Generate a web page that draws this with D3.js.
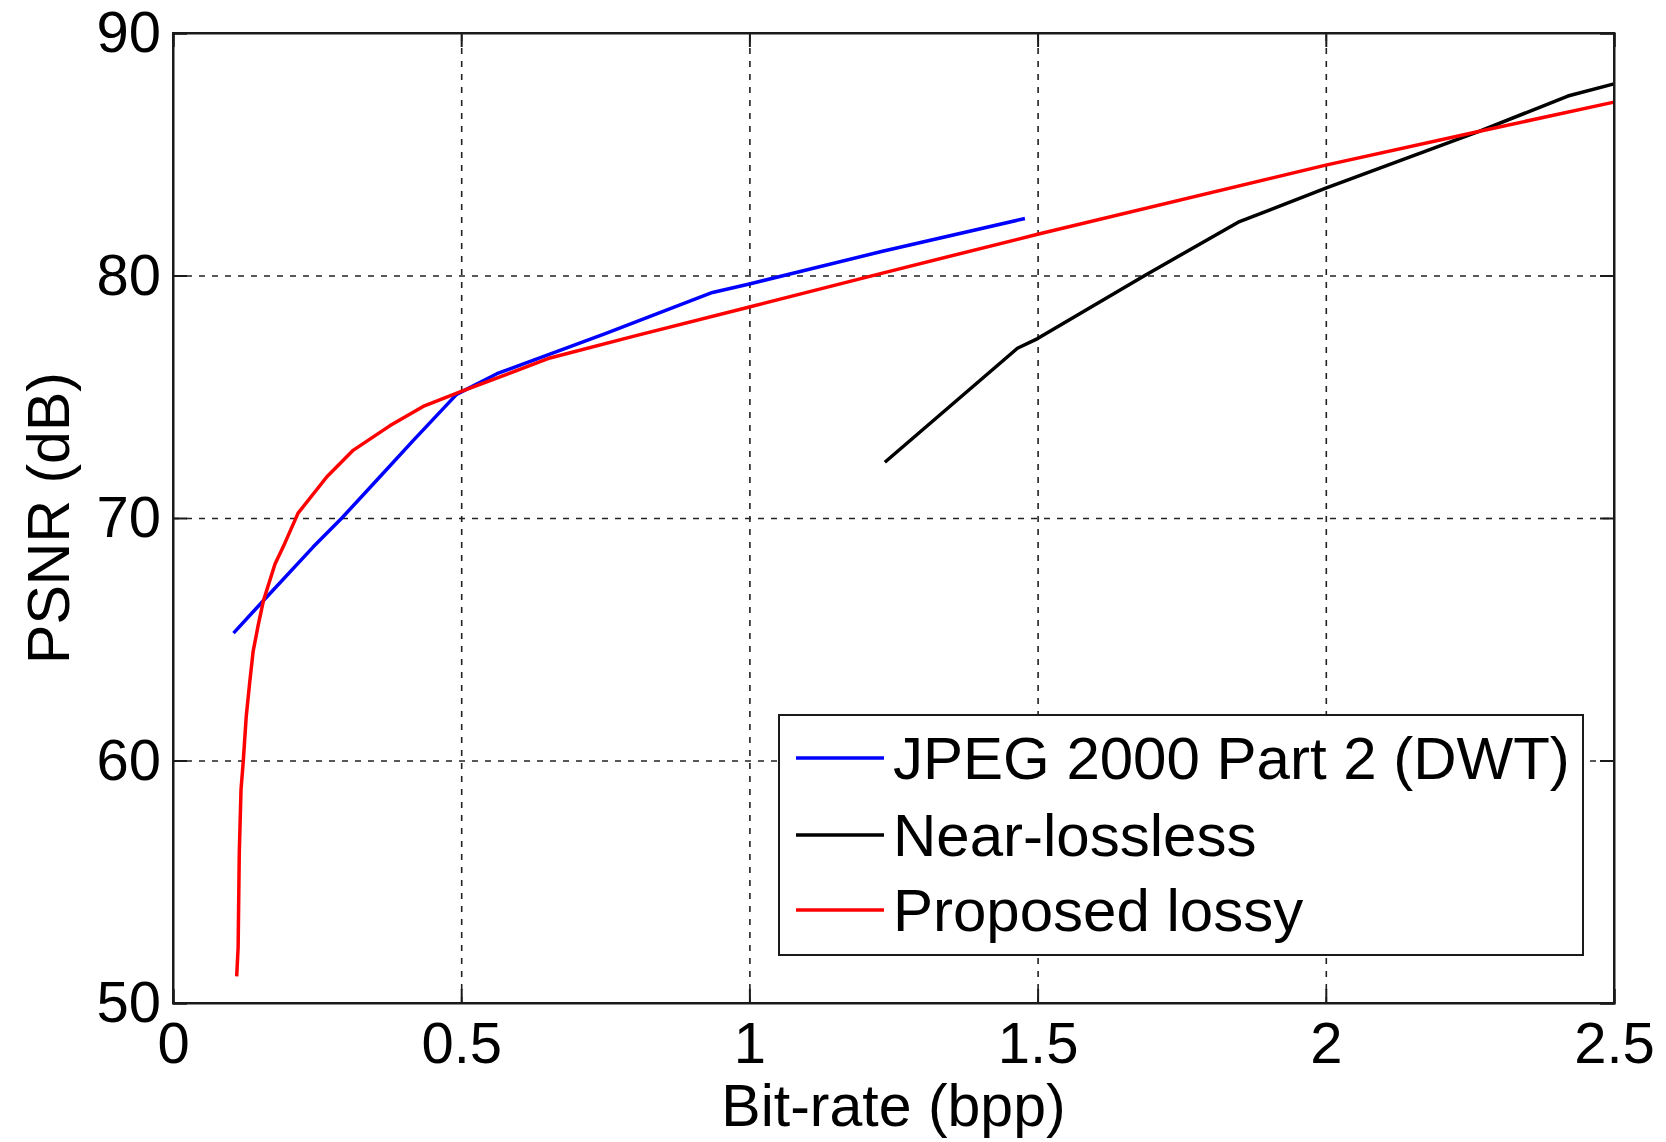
<!DOCTYPE html>
<html>
<head>
<meta charset="utf-8">
<script src="https://cdn.jsdelivr.net/npm/d3@7"></script>
<style>
  body { margin: 0; background: #fff; }
  text { font-family: "Liberation Sans", Arial, sans-serif; fill: #000; }
</style>
</head>
<body>
<div id="chart"></div>
<script>
// tick values
const xTicks = [0, 0.5, 1, 1.5, 2, 2.5];
const yTicks = [50, 60, 70, 80, 90];

// legend names
const seriesNames = ["JPEG 2000 Part 2 (DWT)", "Near-lossless", "Proposed lossy"];
const seriesColors = ["#0000ff", "#000000", "#ff0000"];

// JPEG 2000 Part 2 (DWT)
const jpegRate = [0.105, 0.157, 0.243, 0.293, 0.359, 0.417, 0.492, 0.562, 0.75, 0.936, 1.0, 1.231, 1.478];
const jpegPsnr = [65.25, 66.6, 68.8, 70.0, 71.7, 73.2, 75.1, 75.95, 77.6, 79.3, 79.65, 81.0, 82.35];

// Near-lossless
const nearRate = [1.235, 1.465, 1.5, 1.686, 1.848, 2.0, 2.267, 2.42, 2.5];
const nearPsnr = [72.3, 77.0, 77.4, 80.0, 82.2, 83.6, 85.95, 87.4, 87.9];

// Proposed lossy
const propRate = [0.1105, 0.113, 0.115, 0.118, 0.122, 0.127, 0.133, 0.139, 0.148, 0.157, 0.177, 0.191, 0.217, 0.267, 0.313, 0.376, 0.434, 0.498, 0.654, 0.8, 1.0, 1.231, 1.5, 2.0, 2.267, 2.5];
const propPsnr = [51.1, 52.3, 56.2, 58.8, 60.0, 61.8, 63.2, 64.5, 65.6, 66.6, 68.1, 68.8, 70.2, 71.7, 72.8, 73.8, 74.6, 75.2, 76.6, 77.5, 78.7, 80.1, 81.7, 84.55, 85.95, 87.15];

function drawChart() {
  const width = 1666;
  const height = 1142;
  const margin = { top: 33, right: 52, bottom: 139, left: 173 };
  const plotW = width - margin.left - margin.right;
  const plotH = height - margin.top - margin.bottom;

  const svg = d3.select("#chart")
    .append("svg")
    .attr("width", width)
    .attr("height", height);

  const x = d3.scaleLinear().domain([0, 2.5]).range([margin.left, margin.left + plotW]);
  const y = d3.scaleLinear().domain([50, 90]).range([margin.top + plotH, margin.top]);

  // grid lines (dotted)
  svg.append("g")
    .attr("transform", `translate(0,${margin.top + plotH})`)
    .call(d3.axisBottom(x).tickValues(xTicks.slice(1, -1)).tickSize(-plotH).tickFormat(""))
    .call(g => g.select(".domain").remove())
    .selectAll("line")
    .attr("stroke", "#222")
    .attr("stroke-width", 1.6)
    .attr("stroke-dasharray", "6,7");

  svg.append("g")
    .attr("transform", `translate(${margin.left},0)`)
    .call(d3.axisLeft(y).tickValues(yTicks.slice(1, -1)).tickSize(-plotW).tickFormat(""))
    .call(g => g.select(".domain").remove())
    .selectAll("line")
    .attr("stroke", "#222")
    .attr("stroke-width", 1.6)
    .attr("stroke-dasharray", "6,7");

  // series lines
  const line = d3.line()
    .x(d => x(d[0]))
    .y(d => y(d[1]));

  const series = [
    d3.zip(jpegRate, jpegPsnr),
    d3.zip(nearRate, nearPsnr),
    d3.zip(propRate, propPsnr)
  ];

  series.forEach((pts, i) => {
    svg.append("path")
      .datum(pts)
      .attr("fill", "none")
      .attr("stroke", seriesColors[i])
      .attr("stroke-width", 3.5)
      .attr("stroke-linejoin", "round")
      .attr("d", line);
  });

  // axes with inward ticks
  const tickLen = 14;
  const xAxis = svg.append("g")
    .attr("transform", `translate(0,${margin.top + plotH})`)
    .call(d3.axisBottom(x).tickValues(xTicks).tickSize(-tickLen).tickPadding(19).tickFormat(d => String(d)));
  xAxis.selectAll("text").style("font-size", "58px").attr("dy", "0.71em");

  const yAxis = svg.append("g")
    .attr("transform", `translate(${margin.left},0)`)
    .call(d3.axisLeft(y).tickValues(yTicks).tickSize(-tickLen).tickPadding(12).tickFormat(d => String(d)));
  yAxis.selectAll("text").style("font-size", "58px");

  svg.append("g")
    .attr("transform", `translate(0,${margin.top})`)
    .call(d3.axisTop(x).tickValues(xTicks).tickSize(-tickLen).tickFormat(""));
  svg.append("g")
    .attr("transform", `translate(${margin.left + plotW},0)`)
    .call(d3.axisRight(y).tickValues(yTicks).tickSize(-tickLen).tickFormat(""));

  svg.selectAll(".domain, .tick line:not([stroke-dasharray])")
    .attr("stroke", "#1a1a1a")
    .attr("stroke-width", 2);

  // frame
  svg.append("rect")
    .attr("x", margin.left)
    .attr("y", margin.top)
    .attr("width", plotW)
    .attr("height", plotH)
    .attr("fill", "none")
    .attr("stroke", "#1a1a1a")
    .attr("stroke-width", 2);

  // axis labels
  svg.append("text")
    .attr("x", margin.left + plotW / 2)
    .attr("y", 1126)
    .attr("text-anchor", "middle")
    .style("font-size", "59px")
    .text("Bit-rate (bpp)");

  svg.append("text")
    .attr("transform", `translate(69,${margin.top + plotH / 2}) rotate(-90)`)
    .attr("text-anchor", "middle")
    .style("font-size", "59px")
    .text("PSNR (dB)");

  // legend
  const legend = svg.append("g");
  legend.append("rect")
    .attr("x", 779)
    .attr("y", 715)
    .attr("width", 804)
    .attr("height", 240)
    .attr("fill", "#fff")
    .attr("stroke", "#1a1a1a")
    .attr("stroke-width", 2);

  const rowY = [758, 835, 910];
  seriesNames.forEach((name, i) => {
    legend.append("line")
      .attr("x1", 796)
      .attr("x2", 884)
      .attr("y1", rowY[i])
      .attr("y2", rowY[i])
      .attr("stroke", seriesColors[i])
      .attr("stroke-width", 3.5);
    legend.append("text")
      .attr("x", 893)
      .attr("y", rowY[i] + 21)
      .style("font-size", "60px")
      .text(name);
  });
}

drawChart();
</script>
</body>
</html>
